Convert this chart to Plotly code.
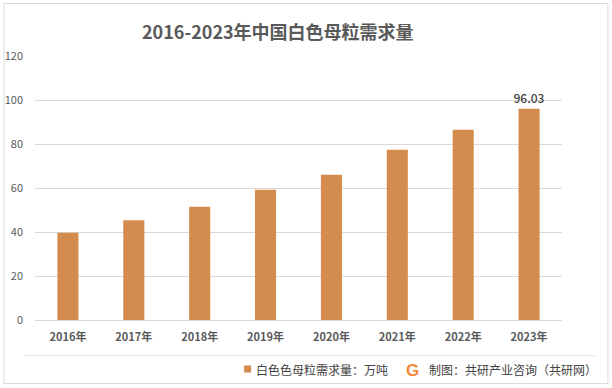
import plotly.graph_objects as go

years = ["2016年", "2017年", "2018年", "2019年", "2020年", "2021年", "2022年", "2023年"]
demand = [39.7, 45.3, 51.5, 59.2, 66.0, 77.4, 86.5, 96.03]
labels = ["", "", "", "", "", "", "", "96.03"]

title_text = "2016-2023年中国白色母粒需求量"
legend_text = "白色色母粒需求量：万吨"
source_text = "制图：共研产业咨询（共研网）"

W, H = 612, 388
L, R, T, B = 34.5, 562.5, 56, 320  # plot area pixel bounds
FONT = "Noto Sans CJK SC"
BAR = "#D48C4E"
GRID = "#D9D9D9"


def px(x):
    return (x - L) / (R - L)


def py(y):
    return (B - y) / (B - T)


fig = go.Figure()
fig.add_trace(go.Bar(
    x=years, y=demand, marker_color=BAR, marker_line_width=0,
    text=labels, textposition="outside", cliponaxis=False, constraintext="none",
    textfont=dict(family=FONT, size=12, color="#404040", weight=500),
    showlegend=False,
))

shapes = [
    dict(type="rect", xref="paper", yref="paper", x0=px(3.5), x1=px(608.5),
         y0=py(383.5), y1=py(3.5), line=dict(color=GRID, width=1), layer="below"),
    dict(type="line", xref="paper", yref="paper", x0=px(23), x1=px(596),
         y0=py(355.5), y1=py(355.5), line=dict(color="#E6E6E6", width=1)),
    dict(type="rect", xref="paper", yref="paper", x0=px(244), x1=px(251),
         y0=py(372.5), y1=py(365.5), fillcolor=BAR, line=dict(width=0)),
]

annotations = [
    dict(text="<b>" + title_text + "</b>", xref="paper", yref="paper",
         x=px(278), y=py(31), xanchor="center", yanchor="middle", showarrow=False,
         font=dict(family=FONT, size=18, color="#595959")),
    dict(text=legend_text, xref="paper", yref="paper",
         x=px(254), y=py(369), xanchor="left", yanchor="middle", showarrow=False,
         font=dict(family=FONT, size=12, color="#404040")),
    dict(text="<b>G</b>", xref="paper", yref="paper",
         x=px(413), y=py(370), xanchor="center", yanchor="middle", showarrow=False,
         font=dict(family="Liberation Sans", size=17, color="#F08A3C")),
    dict(text=source_text, xref="paper", yref="paper",
         x=px(427), y=py(369), xanchor="left", yanchor="middle", showarrow=False,
         font=dict(family=FONT, size=12, color="#404040")),
]

fig.update_layout(
    width=W, height=H,
    margin=dict(l=L, r=W - R, t=T, b=H - B, pad=0, autoexpand=False),
    paper_bgcolor="white", plot_bgcolor="white",
    bargap=0.68,
    font=dict(family=FONT, color="#595959"),
    shapes=shapes, annotations=annotations,
    xaxis=dict(showgrid=False, showline=False, ticks="", automargin=False,
               tickfont=dict(family=FONT, size=11, color="#595959", weight="bold"),
               ticklabelstandoff=9),
    yaxis=dict(range=[0, 120], dtick=20, showgrid=True, gridcolor=GRID, gridwidth=1,
               zeroline=True, zerolinecolor=GRID, zerolinewidth=1, showline=False,
               automargin=False,
               ticks="", tickfont=dict(family=FONT, size=11, color="#595959"),
               ticklabelstandoff=11),
)

fig.write_html("out.html", config={"displayModeBar": False},
               post_script="document.body.style.margin='0';")
